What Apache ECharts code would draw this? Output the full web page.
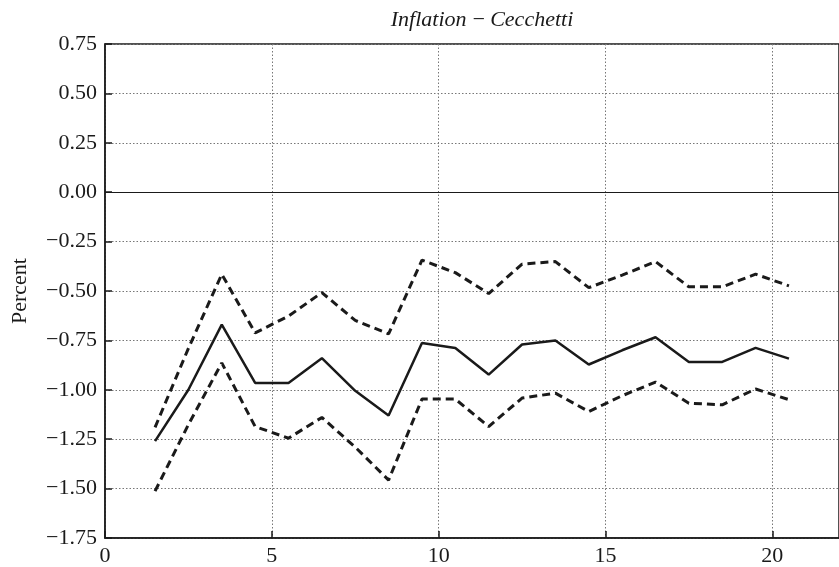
<!DOCTYPE html>
<html>
<head>
<meta charset="utf-8">
<script src="https://cdn.jsdelivr.net/npm/echarts@6/dist/echarts.min.js"></script>
<style>html,body{margin:0;padding:0;background:#fff;}#c{width:839px;height:567px;}</style>
</head>
<body>
<div id="c"></div>
<script>
var horizons = [1.5,2.5,3.5,4.5,5.5,6.5,7.5,8.5,9.5,10.5,11.5,12.5,13.5,14.5,15.5,16.5,17.5,18.5,19.5,20.5];
var median = [-1.26,-1.00,-0.67,-0.965,-0.965,-0.84,-1.005,-1.13,-0.763,-0.788,-0.923,-0.771,-0.75,-0.872,-0.80,-0.734,-0.859,-0.859,-0.788,-0.842];
var upper = [-1.19,-0.79,-0.415,-0.712,-0.627,-0.508,-0.649,-0.717,-0.344,-0.407,-0.513,-0.364,-0.351,-0.483,-0.42,-0.351,-0.479,-0.479,-0.415,-0.474];
var lower = [-1.513,-1.176,-0.864,-1.186,-1.245,-1.14,-1.29,-1.457,-1.047,-1.047,-1.186,-1.042,-1.017,-1.11,-1.03,-0.961,-1.068,-1.076,-0.996,-1.05];
var titleText = 'Inflation\u2009\u2212\u2009Cecchetti';
var yName = 'Percent';

function pairs(v){ return horizons.map(function(h,i){ return [h, v[i]]; }); }
var font = '"Liberation Serif","DejaVu Serif",serif';
var ink = '#1a1a1a';
var chart = echarts.init(document.getElementById('c'));
chart.setOption({
  animation: false,
  title: { text: titleText, left: 477, textAlign: 'center', top: 4,
    textStyle: { fontFamily: font, fontStyle: 'italic', fontWeight: 'normal', fontSize: 22, color: ink } },
  grid: { left: 105, right: -14, top: 44, bottom: 29, show: true, borderColor: ink, borderWidth: 1.5 },
  xAxis: { type: 'value', min: 0, max: 22, interval: 5,
    axisLine: { show: true, onZero: false, lineStyle: { color: ink, width: 1.5 } },
    axisTick: { show: true, inside: true, length: 7, lineStyle: { color: ink, width: 1.5 } },
    axisLabel: { fontFamily: font, fontSize: 22, color: ink, margin: 7, showMaxLabel: false },
    splitLine: { show: true, lineStyle: { color: '#777', type: [1.5, 2], width: 1 } } },
  yAxis: { type: 'value', min: -1.75, max: 0.75, interval: 0.25, name: yName, nameLocation: 'middle', nameGap: 74,
    nameTextStyle: { fontFamily: font, fontSize: 22, color: ink },
    axisLine: { show: true, lineStyle: { color: ink, width: 1.5 } },
    axisTick: { show: true, inside: true, length: 7, lineStyle: { color: ink, width: 1.5 } },
    axisLabel: { fontFamily: font, fontSize: 22, color: ink, margin: 8,
      formatter: function(v){ var s = Math.abs(v).toFixed(2); return (v < -1e-9 ? '\u2212' : '') + s; } },
    splitLine: { show: true, lineStyle: { color: '#777', type: [1.5, 2], width: 1 } } },
  series: [
    { type: 'line', data: pairs(median), symbol: 'none', lineStyle: { color: ink, width: 2.5 },
      markLine: { silent: true, symbol: 'none', label: { show: false }, lineStyle: { color: ink, width: 1.2, type: 'solid' }, data: [{ yAxis: 0 }] } },
    { type: 'line', data: pairs(upper), symbol: 'none', lineStyle: { color: ink, width: 3, type: [8, 5] } },
    { type: 'line', data: pairs(lower), symbol: 'none', lineStyle: { color: ink, width: 3, type: [8, 5] } }
  ]
});
</script>
</body>
</html>
